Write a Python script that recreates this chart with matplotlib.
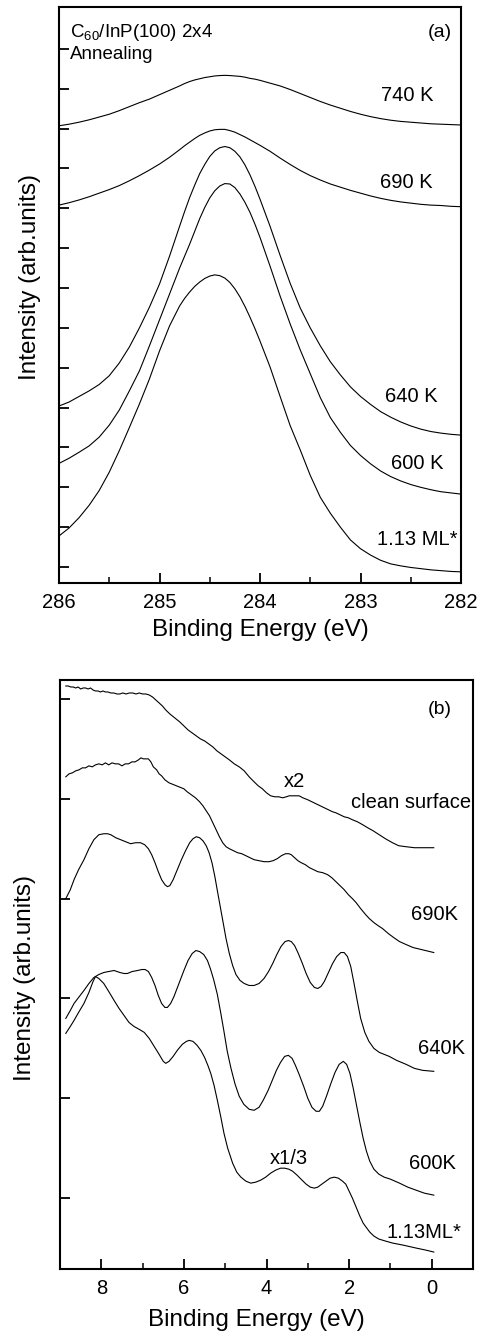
import numpy as np
import matplotlib
matplotlib.use('Agg')
import matplotlib.pyplot as plt

plt.rcParams['font.family'] = ['Liberation Sans', 'DejaVu Sans']
plt.rcParams['mathtext.fontset'] = 'custom'
plt.rcParams['mathtext.rm'] = 'Liberation Sans'

# ---- panel (a): C 1s core level (finer steps around the peak)
e_a = [286.0, 285.9, 285.8, 285.7, 285.6, 285.5, 285.4, 285.3, 285.2, 285.1, 285.0, 284.9,
       284.8, 284.75, 284.7, 284.65, 284.6, 284.55, 284.5, 284.45, 284.4, 284.35,
       284.3, 284.25, 284.2, 284.15, 284.1, 284.05, 284.0,
       283.9, 283.8, 283.7, 283.6, 283.5, 283.4, 283.3, 283.2, 283.1, 283.0,
       282.9, 282.8, 282.7, 282.6, 282.5, 282.4, 282.3, 282.2, 282.1, 282.0]

c1s_740 = [11.07, 11.11, 11.16, 11.22, 11.29, 11.36, 11.45, 11.55, 11.65, 11.74, 11.85, 11.96,
           12.07, 12.13, 12.18, 12.22, 12.25, 12.28, 12.30, 12.32, 12.33, 12.335,
           12.33, 12.32, 12.31, 12.29, 12.26, 12.24, 12.21,
           12.14, 12.07, 11.98, 11.88, 11.78, 11.68, 11.59, 11.51, 11.43, 11.36,
           11.30, 11.25, 11.21, 11.18, 11.16, 11.14, 11.12, 11.11, 11.10, 11.09]
c1s_690 = [9.08, 9.14, 9.21, 9.29, 9.38, 9.47, 9.57, 9.69, 9.82, 9.96, 10.11, 10.28,
           10.47, 10.57, 10.66, 10.75, 10.83, 10.89, 10.94, 10.97, 10.98, 10.98,
           10.95, 10.91, 10.85, 10.79, 10.72, 10.65, 10.58,
           10.43, 10.26, 10.10, 9.95, 9.82, 9.71, 9.61, 9.53, 9.45, 9.38,
           9.31, 9.25, 9.20, 9.16, 9.13, 9.10, 9.08, 9.07, 9.05, 9.04]
c1s_640 = [4.04, 4.14, 4.28, 4.42, 4.58, 4.80, 5.12, 5.52, 6.00, 6.52, 7.10, 7.80,
           8.55, 8.92, 9.27, 9.58, 9.87, 10.10, 10.30, 10.44, 10.52, 10.55,
           10.52, 10.43, 10.29, 10.09, 9.84, 9.55, 9.23,
           8.55, 7.82, 7.12, 6.50, 6.00, 5.55, 5.15, 4.82, 4.52, 4.28,
           4.08, 3.90, 3.76, 3.64, 3.54, 3.46, 3.40, 3.36, 3.33, 3.31]
c1s_600 = [2.60, 2.73, 2.88, 3.04, 3.26, 3.56, 3.94, 4.42, 4.92, 5.55, 6.20, 6.85,
           7.50, 7.80, 8.10, 8.42, 8.74, 9.02, 9.26, 9.44, 9.56, 9.62,
           9.61, 9.52, 9.36, 9.15, 8.90, 8.60, 8.27,
           7.55, 6.80, 6.10, 5.45, 4.85, 4.25, 3.75, 3.38, 3.05, 2.80,
           2.59, 2.41, 2.27, 2.16, 2.07, 2.00, 1.94, 1.89, 1.86, 1.83]
c1s_113 = [0.78, 0.98, 1.24, 1.55, 1.92, 2.38, 2.92, 3.50, 4.09, 4.72, 5.42, 6.05,
           6.55, 6.74, 6.90, 7.04, 7.15, 7.24, 7.30, 7.33, 7.31, 7.25,
           7.14, 6.98, 6.78, 6.54, 6.27, 5.98, 5.67,
           5.02, 4.28, 3.55, 2.94, 2.30, 1.75, 1.35, 1.00, 0.68, 0.46,
           0.30, 0.17, 0.08, 0.03, -0.01, -0.04, -0.07, -0.09, -0.11, -0.12]

# ---- panel (b): valence band spectra
e_clean = [8.86, 8.80, 8.74, 8.68, 8.62, 8.56, 8.50, 8.44, 8.38, 8.32, 8.26, 8.20,
           8.14, 8.08, 8.02, 7.96, 7.90, 7.84, 7.77, 7.70, 7.62, 7.55, 7.48, 7.40,
           7.32, 7.24, 7.16, 7.08, 7.00, 6.92, 6.84, 6.76, 6.68, 6.60, 6.52, 6.44,
           6.34, 6.22, 6.10, 6.00, 5.90, 5.80, 5.70, 5.60, 5.50, 5.40, 5.30, 5.20,
           5.10, 5.00, 4.90, 4.78, 4.66, 4.54, 4.42, 4.30, 4.20, 4.10, 4.00, 3.90,
           3.80, 3.70, 3.61, 3.52, 3.45, 3.36, 3.28, 3.21, 3.12, 3.00, 2.90, 2.80,
           2.70, 2.60, 2.50, 2.40, 2.32, 2.22, 2.12, 2.02, 1.92, 1.80, 1.67, 1.55,
           1.42, 1.27, 1.12, 0.95, 0.80, 0.62, 0.42, 0.22, -0.05]
vb_clean = [5.13, 5.13, 5.12, 5.12, 5.11, 5.12, 5.10, 5.11, 5.11, 5.10, 5.11, 5.09,
            5.08, 5.08, 5.07, 5.08, 5.07, 5.07, 5.06, 5.06, 5.05, 5.05, 5.06, 5.05,
            5.06, 5.06, 5.05, 5.06, 5.05, 5.05, 5.04, 5.02, 4.99, 4.96, 4.93, 4.89,
            4.85, 4.81, 4.77, 4.73, 4.69, 4.66, 4.63, 4.60, 4.58, 4.55, 4.52, 4.48,
            4.45, 4.42, 4.39, 4.35, 4.32, 4.28, 4.22, 4.17, 4.13, 4.10, 4.06, 4.03,
            4.02, 4.02, 4.01, 4.02, 4.03, 4.03, 4.03, 4.03, 4.01, 3.99, 3.97, 3.95,
            3.93, 3.91, 3.89, 3.87, 3.86, 3.84, 3.82, 3.81, 3.79, 3.77, 3.74, 3.71,
            3.68, 3.64, 3.60, 3.56, 3.53, 3.52, 3.51, 3.51, 3.51]

e_690 = [8.86, 8.78, 8.70, 8.62, 8.54, 8.46, 8.38, 8.30, 8.22, 8.14, 8.06, 7.98,
         7.90, 7.82, 7.74, 7.66, 7.58, 7.50, 7.42, 7.34, 7.26, 7.18, 7.10, 7.04,
         6.98, 6.92, 6.86, 6.80, 6.74, 6.66, 6.60, 6.54, 6.46, 6.36, 6.24, 6.12,
         6.00, 5.92, 5.82, 5.72, 5.62, 5.54, 5.46, 5.38, 5.30, 5.22, 5.14, 5.06,
         4.98, 4.90, 4.80, 4.70, 4.60, 4.50, 4.40, 4.30, 4.18, 4.06, 3.94, 3.84,
         3.74, 3.64, 3.54, 3.46, 3.40, 3.32, 3.24, 3.16, 3.06, 2.96, 2.86, 2.76,
         2.64, 2.52, 2.42, 2.32, 2.22, 2.12, 2.02, 1.92, 1.83, 1.72, 1.60, 1.51,
         1.40, 1.30, 1.19, 1.05, 0.92, 0.78, 0.62, 0.45, 0.25, 0.05, -0.05]
vb_690 = [4.22, 4.25, 4.26, 4.28, 4.29, 4.31, 4.31, 4.33, 4.32, 4.34, 4.35, 4.34,
          4.36, 4.34, 4.36, 4.35, 4.35, 4.33, 4.35, 4.35, 4.37, 4.37, 4.39, 4.41,
          4.40, 4.40, 4.40, 4.37, 4.32, 4.29, 4.25, 4.23, 4.19, 4.16, 4.14, 4.12,
          4.10, 4.07, 4.04, 4.01, 3.97, 3.93, 3.88, 3.83, 3.76, 3.69, 3.62, 3.56,
          3.52, 3.50, 3.48, 3.46, 3.45, 3.43, 3.41, 3.39, 3.38, 3.37, 3.37, 3.38,
          3.40, 3.43, 3.45, 3.45, 3.44, 3.41, 3.38, 3.36, 3.34, 3.31, 3.29, 3.27,
          3.26, 3.24, 3.21, 3.17, 3.13, 3.09, 3.04, 3.00, 2.96, 2.90, 2.84, 2.80,
          2.76, 2.73, 2.70, 2.65, 2.61, 2.57, 2.54, 2.51, 2.49, 2.47, 2.46]

e_640 = [8.86, 8.75, 8.66, 8.55, 8.42, 8.30, 8.18, 8.06, 7.94, 7.85, 7.77, 7.65,
         7.53, 7.41, 7.29, 7.17, 7.05, 6.95, 6.86, 6.78, 6.70, 6.62, 6.54, 6.46,
         6.40, 6.34, 6.26, 6.16, 6.06, 5.96, 5.86, 5.78, 5.70, 5.62, 5.54, 5.46,
         5.39, 5.32, 5.25, 5.19, 5.12, 5.05, 4.98, 4.90, 4.82, 4.74, 4.64, 4.54,
         4.42, 4.30, 4.18, 4.06, 3.95, 3.85, 3.75, 3.65, 3.55, 3.47, 3.40, 3.32,
         3.24, 3.14, 3.04, 2.94, 2.84, 2.76, 2.68, 2.60, 2.50, 2.40, 2.30, 2.20,
         2.12, 2.04, 1.96, 1.88, 1.80, 1.72, 1.62, 1.52, 1.40, 1.27, 1.15, 1.03,
         0.85, 0.62, 0.42, 0.22, -0.05]
vb_640 = [3.00, 3.09, 3.19, 3.29, 3.39, 3.50, 3.59, 3.64, 3.65, 3.65, 3.64, 3.61,
          3.59, 3.57, 3.55, 3.56, 3.56, 3.54, 3.50, 3.44, 3.36, 3.27, 3.19, 3.14,
          3.12, 3.13, 3.19, 3.29, 3.39, 3.48, 3.56, 3.60, 3.62, 3.61, 3.58, 3.53,
          3.46, 3.36, 3.22, 3.08, 2.92, 2.76, 2.60, 2.45, 2.33, 2.24, 2.18, 2.15,
          2.13, 2.13, 2.15, 2.20, 2.27, 2.35, 2.44, 2.52, 2.57, 2.58, 2.57, 2.53,
          2.46, 2.36, 2.25, 2.16, 2.11, 2.10, 2.12, 2.17, 2.26, 2.35, 2.42, 2.46,
          2.46, 2.42, 2.32, 2.15, 1.97, 1.80, 1.66, 1.57, 1.50, 1.46, 1.44, 1.42,
          1.38, 1.34, 1.30, 1.28, 1.27]

e_600 = [8.86, 8.75, 8.66, 8.55, 8.42, 8.30, 8.18, 8.06, 7.94, 7.82, 7.69, 7.55,
         7.45, 7.37, 7.25, 7.12, 7.02, 6.94, 6.86, 6.78, 6.70, 6.62, 6.54, 6.46,
         6.40, 6.32, 6.24, 6.12, 6.00, 5.90, 5.80, 5.71, 5.62, 5.52, 5.43, 5.36,
         5.28, 5.19, 5.11, 5.03, 4.95, 4.86, 4.76, 4.66, 4.55, 4.42, 4.30, 4.18,
         4.08, 3.96, 3.86, 3.76, 3.66, 3.56, 3.47, 3.38, 3.30, 3.21, 3.10, 3.00,
         2.90, 2.80, 2.72, 2.64, 2.54, 2.44, 2.34, 2.24, 2.14, 2.06, 1.98, 1.90,
         1.82, 1.74, 1.66, 1.58, 1.50, 1.40, 1.28, 1.15, 1.00, 0.78, 0.58, 0.38,
         0.18, -0.05]
vb_600 = [1.80, 1.88, 1.95, 2.01, 2.08, 2.15, 2.21, 2.24, 2.26, 2.27, 2.28, 2.26,
          2.25, 2.25, 2.27, 2.28, 2.29, 2.29, 2.27, 2.21, 2.13, 2.03, 1.95, 1.91,
          1.91, 1.95, 2.02, 2.15, 2.28, 2.38, 2.45, 2.48, 2.47, 2.44, 2.38, 2.30,
          2.19, 2.04, 1.86, 1.67, 1.47, 1.30, 1.14, 1.02, 0.94, 0.89, 0.88, 0.91,
          0.98, 1.08, 1.18, 1.28, 1.36, 1.42, 1.43, 1.40, 1.33, 1.24, 1.12, 1.00,
          0.91, 0.87, 0.87, 0.92, 1.03, 1.15, 1.26, 1.34, 1.37, 1.34, 1.25, 1.10,
          0.93, 0.76, 0.60, 0.47, 0.37, 0.29, 0.24, 0.21, 0.19, 0.15, 0.11, 0.08,
          0.05, 0.03]

e_113 = [8.86, 8.75, 8.66, 8.55, 8.42, 8.30, 8.20, 8.14, 8.06, 7.94, 7.82, 7.69,
         7.57, 7.45, 7.33, 7.21, 7.08, 6.96, 6.84, 6.72, 6.60, 6.50, 6.44, 6.36,
         6.26, 6.16, 6.04, 5.94, 5.87, 5.78, 5.68, 5.59, 5.50, 5.42, 5.35, 5.27,
         5.19, 5.11, 5.03, 4.94, 4.82, 4.72, 4.62, 4.50, 4.38, 4.26, 4.14, 4.02,
         3.90, 3.78, 3.66, 3.56, 3.46, 3.37, 3.26, 3.14, 3.04, 2.94, 2.84, 2.76,
         2.66, 2.56, 2.46, 2.36, 2.26, 2.16, 2.08, 2.00, 1.92, 1.83, 1.74, 1.66,
         1.59, 1.50, 1.40, 1.28, 1.12, 0.95, 0.70, 0.38, 0.15, -0.05]
vb_113 = [1.65, 1.72, 1.78, 1.86, 1.95, 2.06, 2.17, 2.22, 2.20, 2.15, 2.07, 1.98,
          1.90, 1.83, 1.76, 1.72, 1.69, 1.66, 1.60, 1.52, 1.44, 1.37, 1.35, 1.37,
          1.42, 1.48, 1.54, 1.57, 1.58, 1.57, 1.53, 1.48, 1.41, 1.33, 1.25, 1.13,
          0.98, 0.82, 0.65, 0.50, 0.35, 0.26, 0.21, 0.17, 0.15, 0.16, 0.18, 0.21,
          0.25, 0.28, 0.30, 0.30, 0.29, 0.27, 0.23, 0.18, 0.14, 0.11, 0.10, 0.11,
          0.14, 0.17, 0.20, 0.21, 0.20, 0.17, 0.14, 0.07, 0.00, -0.09, -0.18, -0.25,
          -0.29, -0.34, -0.38, -0.41, -0.43, -0.45, -0.47, -0.50, -0.52, -0.54]

fig = plt.figure(figsize=(4.82, 13.36), dpi=100)
ax = fig.add_axes([59/482, 1-583/1336, 402/482, 576/1336])
ax2 = fig.add_axes([60/482, 1-1269/1336, 413/482, 589/1336])

lw = 0.8
for y in [c1s_740, c1s_690, c1s_640, c1s_600, c1s_113]:
    ax.plot(e_a, y, color='black', lw=lw)

ax.set_xlim(286, 282)
ax.set_ylim(-0.40, 14.05)
ax.set_xticks([286, 285, 284, 283, 282])
ax.set_xticks([285.5, 284.5, 283.5, 282.5], minor=True)
ax.set_yticks(np.arange(0, 14))
ax.set_yticklabels([])

fs = 14.5
ax.text(285.89, 13.40, r'C$_{\mathrm{60}}$/InP(100) 2x4', fontsize=13.5, va='center', ha='left')
ax.text(285.89, 12.85, 'Annealing', fontsize=13.5, va='center', ha='left')
ax.text(282.21, 13.40, '(a)', fontsize=14, va='center', ha='center')
ax.text(282.53, 11.84, '740 K', fontsize=fs, va='center', ha='center')
ax.text(282.54, 9.64, '690 K', fontsize=fs, va='center', ha='center')
ax.text(282.49, 4.27, '640 K', fontsize=fs, va='center', ha='center')
ax.text(282.44, 2.61, '600 K', fontsize=fs, va='center', ha='center')
ax.text(282.44, 0.68, '1.13 ML*', fontsize=fs, va='center', ha='center')

for e, y in [(e_clean, vb_clean), (e_690, vb_690), (e_640, vb_640),
             (e_600, vb_600), (e_113, vb_113)]:
    ax2.plot(e, y, color='black', lw=lw)

ax2.set_xlim(9, -1)
ax2.set_ylim(-0.71, 5.19)
ax2.set_xticks([8, 6, 4, 2, 0])
ax2.set_xticks([7, 5, 3, 1], minor=True)
ax2.set_yticks(np.arange(0, 6))
ax2.set_yticklabels([])

ax2.text(-0.19, 4.89, '(b)', fontsize=14, va='center', ha='center')
ax2.text(3.33, 4.17, 'x2', fontsize=fs, va='center', ha='center')
ax2.text(0.49, 3.96, 'clean surface', fontsize=fs, va='center', ha='center')
ax2.text(-0.07, 2.84, '690K', fontsize=fs, va='center', ha='center')
ax2.text(-0.24, 1.50, '640K', fontsize=fs, va='center', ha='center')
ax2.text(-0.02, 0.35, '600K', fontsize=fs, va='center', ha='center')
ax2.text(3.45, 0.40, 'x1/3', fontsize=fs, va='center', ha='center')
ax2.text(0.18, -0.34, '1.13ML*', fontsize=fs, va='center', ha='center')

for a in [ax, ax2]:
    for s in a.spines.values():
        s.set_linewidth(1.5)
    a.tick_params(axis='both', which='both', direction='in', top=False, right=False)
    a.tick_params(axis='x', which='major', length=7, width=1.3, labelsize=14.5, pad=7)
    a.tick_params(axis='x', which='minor', length=4, width=1.1)
    a.tick_params(axis='y', which='major', length=7, width=1.3)
    a.set_xlabel('Binding Energy (eV)', fontsize=17.5)
    a.set_ylabel('Intensity (arb.units)', fontsize=17.5)
    a.xaxis.label.set_va('center')
    a.yaxis.label.set_va('center')

ax.xaxis.set_label_coords(0.5, -0.082)
ax.yaxis.set_label_coords(-0.072, 0.531)
ax2.xaxis.set_label_coords(0.475, -0.087)
ax2.yaxis.set_label_coords(-0.085, 0.494)

fig.savefig('out.png', dpi=100)
